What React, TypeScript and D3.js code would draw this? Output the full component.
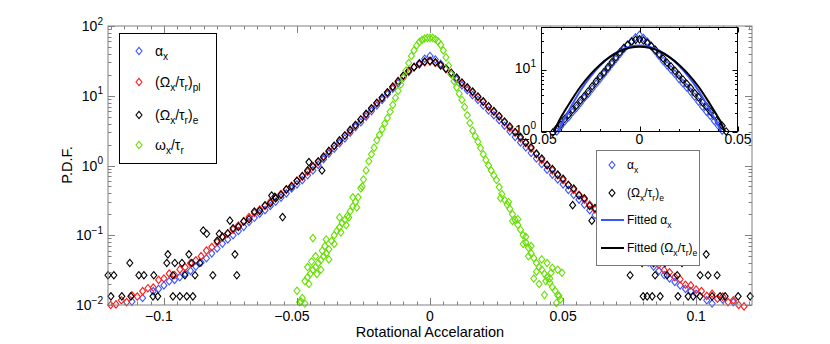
import React from "react";
import * as d3 from "d3";

// histogram bin centres (wide PDFs every 0.002, the vorticity PDF every 0.001)
const wideBins = d3.range(-60, 61).map((i) => i * 0.002);
const narrowBins = d3.range(-50, 51).map((i) => i * 0.001);

// alpha_x, bins -0.120 .. 0.120
const alphaPdf = [
  null, null, null, null, 0.0112, null, 0.0126, null, 0.0158, 0.017,
  0.0191, 0.0219, 0.0229, 0.0251, 0.0282, 0.0309, 0.0355, 0.0407, 0.0468, 0.055,
  0.0646, 0.0759, 0.0871, 0.1, 0.115, 0.132, 0.155, 0.178, 0.204, 0.229,
  0.263, 0.302, 0.347, 0.398, 0.468, 0.537, 0.617, 0.724, 0.851, 1.02,
  1.23, 1.48, 1.74, 2.09, 2.45, 2.95, 3.55, 4.17, 5.01, 6.03,
  7.24, 8.71, 10.5, 12.6, 15.1, 18.2, 21.9, 25.7, 29.5, 33.9,
  37.2, 33.1, 28.8, 24.5, 20.4, 17.0, 14.1, 12.0, 10.2, 8.71,
  7.24, 6.17, 5.25, 4.47, 3.72, 3.09, 2.57, 2.14, 1.82, 1.51,
  1.26, 1.05, 0.871, 0.741, 0.631, 0.537, 0.447, 0.38, 0.324, 0.275,
  0.229, 0.195, 0.166, 0.141, 0.12, 0.102, 0.0871, 0.0741, 0.0631, 0.055,
  0.0468, 0.0407, 0.0355, 0.0309, 0.0269, 0.024, 0.0214, 0.0191, 0.017, 0.0158,
  0.0145, null, 0.0117, 0.0105, null, 0.012, null, 0.011, null, null,
  null,
];

// (Omega_x/tau_r)_pl
const omegaPlPdf = [
  0.01, 0.0102, 0.0117, 0.011, 0.0138, 0.0132, 0.0158, 0.0174, 0.0178, 0.0229,
  0.024, 0.0282, 0.0269, 0.0324, 0.0347, 0.0398, 0.0437, 0.0501, 0.0603, 0.0676,
  0.0794, 0.0933, 0.105, 0.12, 0.138, 0.158, 0.182, 0.209, 0.234, 0.263,
  0.302, 0.339, 0.389, 0.447, 0.513, 0.603, 0.692, 0.813, 0.955, 1.12,
  1.35, 1.58, 1.91, 2.24, 2.69, 3.16, 3.8, 4.57, 5.37, 6.46,
  7.76, 9.33, 11.0, 13.2, 15.8, 19.1, 22.4, 25.7, 28.2, 30.2,
  30.9, 29.5, 26.9, 24.0, 20.9, 17.8, 15.1, 12.9, 11.2, 9.55,
  8.13, 6.92, 5.89, 5.01, 4.17, 3.47, 2.95, 2.45, 2.09, 1.74,
  1.45, 1.2, 1.0, 0.851, 0.724, 0.617, 0.525, 0.447, 0.38, 0.324,
  0.275, 0.234, 0.2, 0.17, 0.145, 0.123, 0.105, 0.0891, 0.0759, 0.0661,
  0.0562, 0.049, 0.0437, 0.038, 0.0316, 0.0295, 0.0251, 0.0234, 0.0195, 0.0191,
  0.0166, 0.0158, 0.0135, 0.0145, 0.0123, 0.0132, 0.011, 0.0117, 0.01, 0.00955,
  null,
];

// (Omega_x/tau_r)_e, well sampled part
const omegaEPdf = [
  null, null, null, null, null, null, null, null, null, null,
  null, null, null, null, null, null, null, null, null, null,
  0.0832, 0.0955, 0.107, 0.126, 0.132, 0.158, 0.17, 0.219, 0.224, 0.269,
  0.288, 0.339, 0.38, 0.457, 0.501, 0.603, 0.708, 0.851, 0.977, 1.15,
  1.32, 1.62, 1.91, 2.29, 2.69, 3.24, 3.8, 4.57, 5.5, 6.61,
  7.94, 9.33, 11.2, 13.5, 16.2, 19.5, 22.9, 25.7, 28.8, 30.9,
  31.6, 30.2, 27.5, 24.5, 21.4, 18.2, 15.5, 13.2, 11.5, 9.77,
  8.32, 7.08, 6.03, 5.13, 4.27, 3.63, 3.02, 2.57, 2.14, 1.82,
  1.48, 1.26, 1.02, 0.891, 0.741, 0.646, 0.525, 0.468, 0.372, 0.339,
  0.263, 0.245, 0.191, 0.178, 0.138, 0.129, 0.1, 0.0933, 0.0708, 0.0676,
  0.0537, 0.0501, 0.0398, null, null, null, null, null, null, null,
  null, null, null, null, null, null, null, null, null, null,
  null,
];

// (Omega_x/tau_r)_e, sparse tail counts and outliers [x, pdf]
const omegaEScatter = [
  [-0.121, 0.0267], [-0.1188, 0.0267], [-0.1094, 0.0267], [-0.1075, 0.0267], [-0.1038, 0.0267],
  [-0.0966, 0.0267], [-0.0921, 0.0267], [-0.0883, 0.0267], [-0.0816, 0.0267], [-0.0726, 0.0267],
  [-0.1199, 0.0133], [-0.1158, 0.0133], [-0.1124, 0.0133], [-0.1041, 0.0133], [-0.1023, 0.0133],
  [-0.0966, 0.0133], [-0.094, 0.0133], [-0.0914, 0.0133], [-0.0891, 0.0133],
  [-0.1128, 0.04], [-0.0989, 0.04], [-0.0959, 0.04], [-0.0932, 0.04], [-0.0895, 0.04], [-0.0865, 0.04],
  [-0.0985, 0.0533], [-0.0906, 0.0533], [-0.0733, 0.0533],
  [-0.0852, 0.117], [-0.0839, 0.105], [-0.0792, 0.105], [-0.0752, 0.162],
  [-0.0595, 0.37], [-0.0583, 0.355], [-0.0554, 0.182], [-0.0455, 1.12], [-0.0406, 0.85],
  [0.0752, 0.0267], [0.0846, 0.0267], [0.0891, 0.0267], [0.0929, 0.0267], [0.1015, 0.0267],
  [0.1045, 0.0267], [0.1079, 0.0267],
  [0.0801, 0.0133], [0.0816, 0.0133], [0.0835, 0.0133], [0.0865, 0.0133], [0.0932, 0.0133],
  [0.097, 0.0133], [0.0989, 0.0133], [0.1015, 0.0133], [0.106, 0.0133], [0.109, 0.0133],
  [0.1109, 0.0133], [0.1158, 0.0133], [0.1203, 0.0133],
  [0.0797, 0.04], [0.0883, 0.04], [0.0947, 0.04], [0.1038, 0.0533],
  [0.0536, 0.27], [0.0608, 0.162],
];

// omega_x/tau_r, bins -0.050 .. 0.050
const vortPdf = [
  0.016, 0.011, 0.0126, 0.022, 0.025, 0.028, 0.032, 0.035, 0.04, 0.044,
  0.05, 0.055, 0.063, 0.083, 0.1, 0.115, 0.13, 0.15, 0.166, 0.19,
  0.22, 0.26, 0.3, 0.35, 0.47, 0.63, 0.85, 1.15, 1.45, 1.8,
  2.3, 2.75, 3.3, 4.0, 4.8, 5.9, 7.4, 9.3, 11.7, 14.5,
  18.2, 22.9, 29.5, 37.2, 44.7, 52.5, 58.9, 63.1, 66.1, 67.6,
  67.6,
  67.6, 64.6, 60.3, 53.7, 44.7, 35.5, 26.9, 20.4, 16.2, 13.2,
  10.7, 8.7, 6.9, 5.25, 4.07, 3.16, 2.63, 2.19, 1.78, 1.45,
  1.2, 1.0, 0.85, 0.72, 0.62, 0.49, 0.39, 0.32, 0.275, 0.24,
  0.2, 0.166, 0.141, 0.12, 0.1, 0.079, 0.066, 0.055, 0.047, 0.04,
  0.035, 0.032, 0.028, 0.025, 0.021, 0.018, 0.016, 0.0138, 0.012, null,
];

const vortScatter = [
  [-0.044, 0.091], [-0.039, 0.087], [-0.047, 0.0105], [-0.0485, 0.0112], [-0.046, 0.035],
  [-0.043, 0.05], [-0.041, 0.032], [-0.038, 0.045], [-0.0405, 0.06], [-0.036, 0.075],
  [-0.034, 0.18], [-0.0315, 0.14], [-0.029, 0.35], [-0.0275, 0.25], [-0.0455, 0.02],
  [-0.0425, 0.028], [-0.0445, 0.042], [-0.0395, 0.07], [-0.0335, 0.11], [-0.0305, 0.18],
  [-0.0255, 0.5],
  [0.046, 0.034], [0.048, 0.032], [0.0496, 0.029], [0.041, 0.02], [0.043, 0.014],
  [0.045, 0.024], [0.039, 0.024], [0.044, 0.04], [0.0475, 0.0107], [0.0485, 0.0135],
  [0.042, 0.045], [0.04, 0.03], [0.037, 0.05], [0.035, 0.075], [0.033, 0.17],
  [0.031, 0.16], [0.0295, 0.3], [0.0265, 0.34], [0.036, 0.095], [0.038, 0.07],
  [0.0455, 0.029], [0.0435, 0.022],
];

// fitted curves shown in the inset
const fitEX = [-0.0435, -0.04, -0.035, -0.03, -0.025, -0.02, -0.015, -0.01, -0.005, 0, 0.005, 0.01, 0.015, 0.02, 0.025, 0.03, 0.035, 0.04, 0.0435];
const fitEY = [1.0, 1.7, 3.1, 5.4, 8.5, 12.3, 16.4, 20.3, 23.0, 24.0, 23.0, 20.3, 16.4, 12.3, 8.5, 5.4, 3.1, 1.7, 1.0];
const fitAlphaX = [-0.0415, -0.04, -0.035, -0.03, -0.025, -0.02, -0.015, -0.01, -0.005, 0, 0.005, 0.01, 0.015, 0.02, 0.025, 0.03, 0.035, 0.04, 0.0415];
const fitAlphaY = [1.0, 1.26, 2.5, 4.66, 7.8, 11.9, 16.5, 20.8, 24.0, 25.1, 24.0, 20.8, 16.5, 11.9, 7.8, 4.66, 2.5, 1.26, 1.0];

const xTicks = [-0.1, -0.05, 0, 0.05, 0.1];
const xTickLabels = ["−0.1", "−0.05", "0", "0.05", "0.1"];
const yExponents = ["−2", "−1", "0", "1", "2"];
const insetXTicks = [-0.05, 0, 0.05];
const insetXTickLabels = ["−0.05", "0", "0.05"];
const insetYExponents = ["0", "1"];

const COL = { alpha: "#3a55ff", pl: "#ff1a1a", e: "#000000", vort: "#66e000" };
const FONT = "'Liberation Sans', Arial, Helvetica, sans-serif";
const diamond = "M0,-3.7L3,0L0,3.7L-3,0Z";

const xScale = d3.scaleLinear().domain([-0.121, 0.121]).range([108, 752]);
const yScale = d3.scaleLog().domain([0.01, 100]).range([305, 26]);
const ixScale = d3.scaleLinear().domain([-0.05, 0.05]).range([541, 738]);
const iyScale = d3.scaleLog().domain([1, 50]).range([132, 27]);

const pairs = (bins, vals) =>
  bins.map((x, i) => [x, vals[i]]).filter((p) => p[1] != null);

// pieces: [text, level] with level 0 normal, 1 subscript, -1 superscript
const Rich = ({ x, y, pieces, size, anchor = "start", dx = 0 }) => {
  let lvl = 0;
  return (
    <text x={x} y={y} dx={dx} fontSize={size} textAnchor={anchor} fontFamily={FONT} fill="#000">
      {pieces.map(([t, l], i) => {
        const off = (v) => (v === 1 ? size * 0.32 : v === -1 ? -size * 0.45 : 0);
        const dy = off(l) - off(lvl);
        lvl = l;
        return (
          <tspan key={i} dy={dy} fontSize={l === 0 ? size : size * 0.72}>
            {t}
          </tspan>
        );
      })}
    </text>
  );
};

const Marks = ({ pts, sx, sy, color, xr, yr }) => (
  <g fill="none" stroke={color} strokeWidth={1.1}>
    {pts
      .filter(([a, b]) => a >= xr[0] && a <= xr[1] && b >= yr[0] && b <= yr[1])
      .map(([a, b], i) => (
        <path key={i} d={diamond} transform={`translate(${sx(a)},${sy(b)})`} />
      ))}
  </g>
);

const labelAlpha = [["α", 0], ["x", 1]];
const labelPl = [["(Ω", 0], ["x", 1], ["/τ", 0], ["r", 1], [")", 0], ["pl", 1]];
const labelE = [["(Ω", 0], ["x", 1], ["/τ", 0], ["r", 1], [")", 0], ["e", 1]];
const labelVort = [["ω", 0], ["x", 1], ["/τ", 0], ["r", 1]];

export default function App() {
  const [x0, x1] = xScale.range();
  const [y0, y1] = yScale.range();
  const xr = [-0.1215, 0.1215];
  const yr = [0.0095, 100];

  const xMinor = d3.range(-24, 25).map((i) => i * 0.005).filter((v) => xScale(v) >= x0 && xScale(v) <= x1);
  const yAll = yScale.ticks();
  const isMajor = (v) => Math.abs(Math.log10(v) - Math.round(Math.log10(v))) < 1e-6;
  const iyAll = iyScale.ticks();
  const ixMinor = d3.range(-5, 6).map((i) => i * 0.01);

  const alphaPts = pairs(wideBins, alphaPdf);
  const plPts = pairs(wideBins, omegaPlPdf);
  const ePts = pairs(wideBins, omegaEPdf);
  const vortPts = pairs(narrowBins, vortPdf);

  const fitLine = (xs, ys) =>
    d3
      .line()
      .x((d, i) => ixScale(xs[i]))
      .y((d) => iyScale(d))
      .curve(d3.curveCatmullRom.alpha(0.5))(ys);

  const grey = "#808080";

  return (
    <svg width={830} height={344} style={{ position: "absolute", left: 0, top: 0 }} fontFamily={FONT}>
      <rect x={0} y={0} width={830} height={344} fill="#fff" />

      {/* data */}
      <Marks pts={alphaPts} sx={xScale} sy={yScale} color={COL.alpha} xr={xr} yr={yr} />
      <Marks pts={plPts} sx={xScale} sy={yScale} color={COL.pl} xr={xr} yr={yr} />
      <Marks pts={ePts} sx={xScale} sy={yScale} color={COL.e} xr={xr} yr={yr} />
      <Marks pts={omegaEScatter} sx={xScale} sy={yScale} color={COL.e} xr={xr} yr={yr} />
      <Marks pts={vortPts} sx={xScale} sy={yScale} color={COL.vort} xr={xr} yr={yr} />
      <Marks pts={vortScatter} sx={xScale} sy={yScale} color={COL.vort} xr={xr} yr={yr} />

      {/* main frame and ticks */}
      <g stroke={grey} strokeWidth={1} fill="none">
        <rect x={x0} y={y1} width={x1 - x0} height={y0 - y1} />
        {xMinor.map((v, i) => {
          const len = xTicks.some((t) => Math.abs(t - v) < 1e-9) || Math.abs(v) < 1e-9 ? 7 : 3.5;
          const px = Math.round(xScale(v)) + 0.5;
          return (
            <g key={i}>
              <line x1={px} x2={px} y1={y0} y2={y0 - len} />
              <line x1={px} x2={px} y1={y1} y2={y1 + len} />
            </g>
          );
        })}
        {yAll.map((v, i) => {
          const len = isMajor(v) ? 7 : 3.5;
          const py = Math.round(yScale(v)) + 0.5;
          return (
            <g key={i}>
              <line x1={x0} x2={x0 + len} y1={py} y2={py} />
              <line x1={x1} x2={x1 - len} y1={py} y2={py} />
            </g>
          );
        })}
      </g>
      {xTicks.map((v, i) => (
        <text key={i} x={xScale(v)} y={321} dx={v < 0 ? -5 : 0} fontSize={14} textAnchor="middle" fill="#000">
          {xTickLabels[i]}
        </text>
      ))}
      {yExponents.map((e, i) => (
        <Rich key={i} x={103} y={yScale(Math.pow(10, i - 2)) + 5} size={14} anchor="end" pieces={[["10", 0], [e, -1]]} />
      ))}
      <text x={430} y={337} fontSize={14.5} textAnchor="middle" fill="#000">
        Rotational Accelaration
      </text>
      <text transform="translate(72,165) rotate(-90)" fontSize={14.5} textAnchor="middle" fill="#000">
        P.D.F.
      </text>

      {/* legend, main axes */}
      <rect x={119.5} y={33.5} width={97} height={130} fill="#fff" stroke="#000" />
      {[labelAlpha, labelPl, labelE, labelVort].map((lab, i) => {
        const yy = [51, 82, 115, 145][i];
        const c = [COL.alpha, COL.pl, COL.e, COL.vort][i];
        return (
          <g key={i}>
            <path d={diamond} transform={`translate(139,${yy})`} fill="none" stroke={c} strokeWidth={1.1} />
            <Rich x={155} y={yy + 4.5} size={14} pieces={lab} />
          </g>
        );
      })}

      {/* inset */}
      <rect x={541} y={27} width={197} height={105} fill="#fff" />
      <Marks pts={alphaPts} sx={ixScale} sy={iyScale} color={COL.alpha} xr={[-0.05, 0.05]} yr={[0.97, 50]} />
      <Marks pts={ePts} sx={ixScale} sy={iyScale} color={COL.e} xr={[-0.05, 0.05]} yr={[0.97, 50]} />
      <path d={fitLine(fitAlphaX, fitAlphaY)} fill="none" stroke={COL.alpha} strokeWidth={2} />
      <path d={fitLine(fitEX, fitEY)} fill="none" stroke="#000" strokeWidth={2} />
      <g stroke="#000" strokeWidth={1} fill="none">
        <rect x={541.5} y={27.5} width={196} height={104} />
        {iyAll.map((v, i) => {
          const len = isMajor(v) ? 5 : 2.5;
          const py = Math.round(iyScale(v)) + 0.5;
          return (
            <g key={i}>
              <line x1={541.5} x2={541.5 + len} y1={py} y2={py} />
              <line x1={737.5} x2={737.5 - len} y1={py} y2={py} />
            </g>
          );
        })}
        {ixMinor.map((v, i) => {
          const len = Math.abs(v) < 1e-9 || Math.abs(Math.abs(v) - 0.05) < 1e-9 ? 5 : 2.5;
          const px = Math.round(ixScale(v)) + 0.5;
          return (
            <g key={i}>
              <line x1={px} x2={px} y1={131.5} y2={131.5 - len} />
              <line x1={px} x2={px} y1={27.5} y2={27.5 + len} />
            </g>
          );
        })}
      </g>
      {insetXTicks.map((v, i) => (
        <text key={i} x={ixScale(v)} y={144} dx={v < 0 ? -2 : 0} fontSize={14} textAnchor="middle" fill="#000">
          {insetXTickLabels[i]}
        </text>
      ))}
      {insetYExponents.map((e, i) => (
        <Rich key={i} x={536} y={iyScale(Math.pow(10, i)) + 3} size={14} anchor="end" pieces={[["10", 0], [e, -1]]} />
      ))}

      {/* legend for the inset */}
      <rect x={596.5} y={150.5} width={103} height={115} fill="#fff" stroke="#777" />
      <path d={diamond} transform="translate(612,165)" fill="none" stroke={COL.alpha} strokeWidth={1.1} />
      <Rich x={627} y={169} size={12} pieces={labelAlpha} />
      <path d={diamond} transform="translate(612,193)" fill="none" stroke={COL.e} strokeWidth={1.1} />
      <Rich x={627} y={197} size={12} pieces={labelE} />
      <line x1={601} x2={624} y1={220} y2={220} stroke={COL.alpha} strokeWidth={2} />
      <Rich x={627} y={224} size={12} pieces={[["Fitted α", 0], ["x", 1]]} />
      <line x1={601} x2={624} y1={248} y2={248} stroke="#000" strokeWidth={2} />
      <Rich x={627} y={252} size={12} pieces={[["Fitted ", 0], ...labelE]} />
    </svg>
  );
}
